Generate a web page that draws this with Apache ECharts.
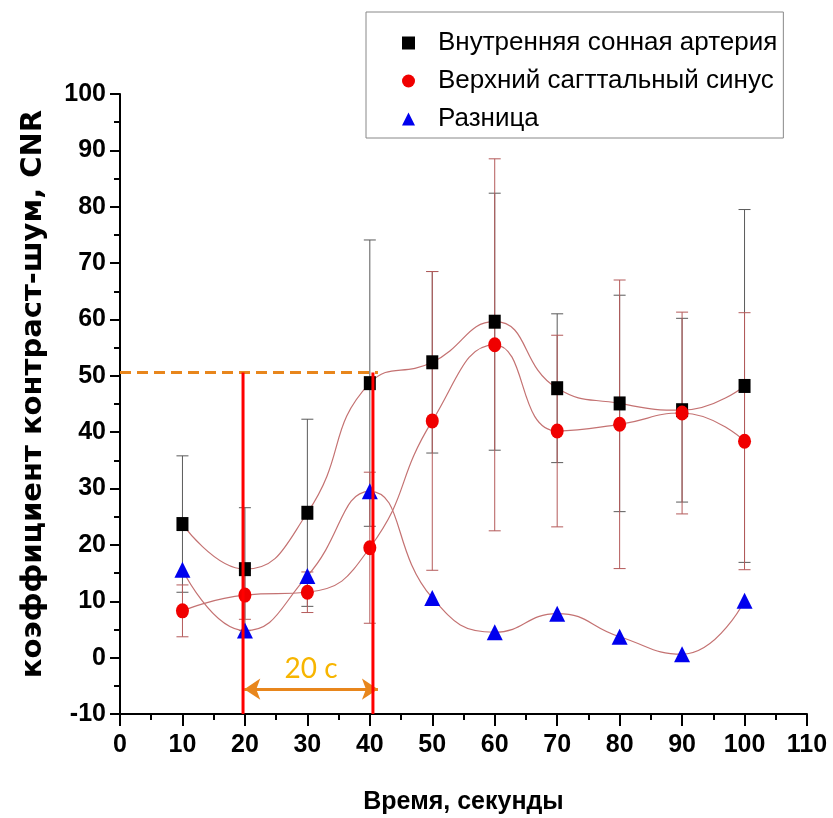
<!DOCTYPE html>
<html>
<head>
<meta charset="utf-8">
<script src="https://cdn.jsdelivr.net/npm/echarts@6/dist/echarts.min.js"></script>
<style>
html,body{margin:0;padding:0;background:#fff;}
#chart{width:833px;height:818px;}
</style>
</head>
<body>
<div id="chart"></div>
<script>
// ---- data ----
const times = [10, 20, 30, 40, 50, 60, 70, 80, 90, 100];
const icaName = 'Внутренняя сонная артерия';
const sssName = 'Верхний сагттальный синус';
const diffName = 'Разница';
const icaValues = [23.7, 15.7, 25.7, 48.7, 52.4, 59.6, 47.8, 45.1, 43.9, 48.2];
const icaErrors = [12.1, 10.9, 16.6, 25.4, 16.1, 22.8, 13.2, 19.2, 16.3, 31.3];
const sssValues = [8.3, 11.1, 11.6, 19.5, 42.0, 55.5, 40.2, 41.4, 43.4, 38.4];
const sssErrors = [4.6, 4.3, 3.6, 13.4, 26.5, 33.0, 17.0, 25.6, 17.9, 22.8];
const diffValues = [15.6, 4.8, 14.5, 29.5, 10.6, 4.5, 7.8, 3.7, 0.6, 10.1];

// annotation values
const refLevel = 50.6;
const refLineEnd = 41.3;
const markTimes = [19.7, 40.5];
const arrowLevel = -5.6;
const arrowFrom = 19.9;
const arrowTo = 41.3;
const arrowLabel = '20 с';

const xTitle = 'Время, секунды';
const yTitle = 'коэффициент контраст-шум, CNR';

// ---- chart ----
const sans = "'Liberation Sans', Arial, sans-serif";
const chart = echarts.init(document.getElementById('chart'));

function pairs(vals) { return times.map((t, i) => [t, vals[i]]); }
function errData(vals, errs) { return times.map((t, i) => [t, vals[i] - errs[i], vals[i] + errs[i]]); }

function errorBarSeries(vals, errs, color) {
  return {
    type: 'custom',
    z: 1,
    silent: true,
    data: errData(vals, errs),
    renderItem: function (params, api) {
      const x = api.value(0);
      const lo = api.coord([x, api.value(1)]);
      const hi = api.coord([x, api.value(2)]);
      const hw = 6;
      const style = { stroke: color, lineWidth: 1 };
      return {
        type: 'group',
        children: [
          { type: 'line', shape: { x1: lo[0], y1: lo[1], x2: hi[0], y2: hi[1] }, style: style },
          { type: 'line', shape: { x1: lo[0] - hw, y1: lo[1], x2: lo[0] + hw, y2: lo[1] }, style: style },
          { type: 'line', shape: { x1: hi[0] - hw, y1: hi[1], x2: hi[0] + hw, y2: hi[1] }, style: style }
        ]
      };
    }
  };
}

const curveColor = '#c47272';

const option = {
  backgroundColor: '#fff',
  animation: false,
  grid: { left: 120, top: 94, width: 687, height: 620, containLabel: false, outerBoundsMode: 'none' },
  legend: {
    orient: 'vertical',
    left: 366,
    top: 12,
    backgroundColor: '#fff',
    borderColor: '#888',
    borderWidth: 1,
    borderRadius: 0,
    padding: [18, 6, 6, 36],
    itemGap: 12,
    itemWidth: 13,
    itemHeight: 13,
    textStyle: { fontFamily: sans, fontSize: 26, color: '#000', padding: [0, 0, 0, 18] },
    data: [
      { name: icaName, icon: 'rect' },
      { name: sssName, icon: 'circle' },
      { name: diffName, icon: 'triangle' }
    ]
  },
  xAxis: {
    type: 'value',
    min: 0, max: 110, interval: 10,
    name: xTitle,
    nameLocation: 'middle',
    nameGap: 76,
    nameTextStyle: { fontFamily: sans, fontWeight: 'bold', fontSize: 25, color: '#000' },
    axisLine: { show: true, onZero: false, lineStyle: { color: '#000', width: 2 } },
    axisTick: { show: true, length: 12, lineStyle: { color: '#000', width: 2 } },
    minorTick: { show: true, splitNumber: 2, length: 6, lineStyle: { color: '#000', width: 2 } },
    splitLine: { show: false },
    axisLabel: { fontFamily: sans, fontWeight: 'bold', fontSize: 25, color: '#000', margin: 19 }
  },
  yAxis: {
    type: 'value',
    min: -10, max: 100, interval: 10,
    name: yTitle,
    nameLocation: 'middle',
    nameGap: 72,
    nameRotate: 90,
    nameTextStyle: { fontFamily: "'DejaVu Sans', sans-serif", fontWeight: 'bold', fontSize: 29, color: '#000', padding: [0, 0, 0, 20] },
    axisLine: { show: true, onZero: false, lineStyle: { color: '#000', width: 2 } },
    axisTick: { show: true, length: 10, lineStyle: { color: '#000', width: 2 } },
    minorTick: { show: true, splitNumber: 2, length: 6, lineStyle: { color: '#000', width: 2 } },
    splitLine: { show: false },
    axisLabel: { fontFamily: sans, fontWeight: 'bold', fontSize: 25, color: '#000', margin: 14 }
  },
  series: [
    errorBarSeries(icaValues, icaErrors, '#5a5a5a'),
    errorBarSeries(sssValues, sssErrors, '#b45a5a'),
    {
      name: icaName, type: 'line', smooth: 0.5, z: 3,
      data: pairs(icaValues),
      symbol: 'rect', symbolSize: [12, 14],
      itemStyle: { color: '#000' },
      lineStyle: { color: curveColor, width: 1.2 }
    },
    {
      name: sssName, type: 'line', smooth: 0.5, z: 3,
      data: pairs(sssValues),
      symbol: 'circle', symbolSize: [13, 15],
      itemStyle: { color: '#f00000' },
      lineStyle: { color: curveColor, width: 1.2 }
    },
    {
      name: diffName, type: 'line', smooth: 0.5, z: 3,
      data: pairs(diffValues),
      symbol: 'triangle', symbolSize: [16, 16],
      itemStyle: { color: '#0000ee' },
      lineStyle: { color: curveColor, width: 1.2 }
    },
    {
      name: 'ref', type: 'line', z: 4, silent: true,
      data: [[0, refLevel], [refLineEnd, refLevel]],
      symbol: 'none',
      lineStyle: { color: '#e8861c', width: 3, type: [11, 6] }
    },
    {
      name: 'mark1', type: 'line', z: 5, silent: true,
      data: [[markTimes[0], -10], [markTimes[0], refLevel]],
      symbol: 'none',
      lineStyle: { color: '#ff0000', width: 3 }
    },
    {
      name: 'mark2', type: 'line', z: 5, silent: true,
      data: [[markTimes[1], -10], [markTimes[1], refLevel]],
      symbol: 'none',
      lineStyle: { color: '#ff0000', width: 3 }
    },
    {
      name: 'arrow', type: 'line', z: 5, silent: true,
      data: [],
      markLine: {
        silent: true,
        symbol: ['arrow', 'arrow'],
        symbolSize: [16, 16],
        lineStyle: { color: '#e8861c', width: 3, type: 'solid' },
        label: {
          show: true, position: 'insideMiddleTop', distance: 6,
          formatter: arrowLabel,
          fontFamily: "Lato, 'Open Sans', sans-serif", fontSize: 28, color: '#f7b500'
        },
        data: [[{ coord: [arrowFrom, arrowLevel] }, { coord: [arrowTo, arrowLevel] }]]
      }
    }
  ]
};
chart.setOption(option);
</script>
</body>
</html>
